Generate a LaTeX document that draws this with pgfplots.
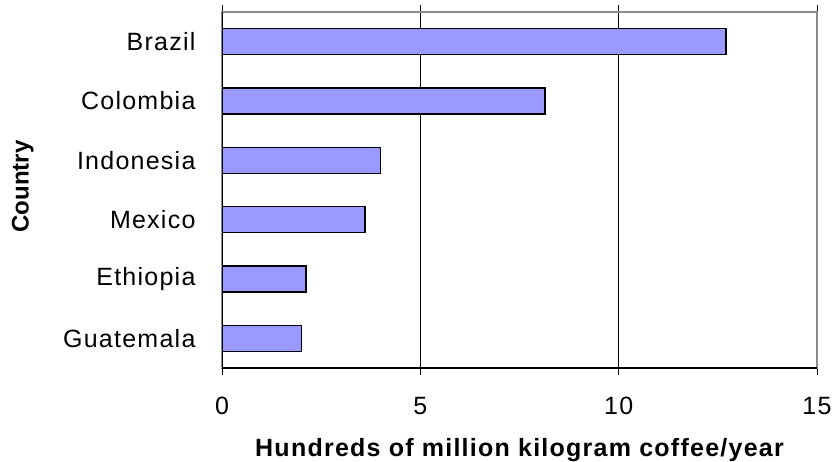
\documentclass[border=0pt]{standalone}
\usepackage{fontspec}
\setmainfont{Liberation Sans}[LetterSpace=5]
\newfontfamily\plainfont{Liberation Sans}
\usepackage{pgfplots}
\pgfplotsset{compat=1.18}
\definecolor{barfill}{HTML}{9999FF}
\begin{document}
\begin{tikzpicture}
\path[use as bounding box] (0,0) rectangle (834pt,-462pt);
\begin{axis}[
  at={(222pt,-368pt)}, anchor=south west,
  scale only axis, width=595pt, height=356pt,
  xmin=0, xmax=15, ymin=-0.5, ymax=5.5,
  xtick={0,5,10,15},
  ytick={0,1,2,3,4,5},
  yticklabels={Guatemala,Ethiopia,Mexico,Indonesia,Colombia,Brazil},
  minor ytick={-0.5,0.5,1.5,2.5,3.5,4.5,5.5},
  tick align=outside,
  major tick length=7pt, minor tick length=10pt,
  ytick style={draw=none},
  minor y tick style={black, line width=1pt},
  xtick style={black, line width=1pt},
  xmajorgrids, major x grid style={black, line width=0.9pt},
  axis line style={draw=gray!90, line width=1.5pt},
  /pgf/number format/assume math mode=true,
  xticklabel style={font=\fontsize{25}{29}\selectfont, yshift=-19pt},
  yticklabel style={font=\fontsize{25}{29}\selectfont, xshift=-16pt},
  xlabel={Hundreds of million kilogram coffee/year},
  xlabel style={font=\bfseries\fontsize{25}{29}\selectfont, at={(axis description cs:0.5,0)}, anchor=base, yshift=-88pt},
  ylabel={Country},
  ylabel style={font=\plainfont\bfseries\fontsize{24}{28}\selectfont, at={(axis description cs:-0.335,0.51)}, anchor=center, rotate=0},
  xbar, bar width=0.44,
]
\addplot[fill=barfill, draw=black, line width=1.5pt] coordinates {
  (2.0,0) (2.12,1) (3.6,2) (4.0,3) (8.14,4) (12.7,5)
};
\draw[black, line width=1.5pt] (rel axis cs:0,1) -- (rel axis cs:0,0) -- (rel axis cs:1,0);
\end{axis}
\end{tikzpicture}
\end{document}
